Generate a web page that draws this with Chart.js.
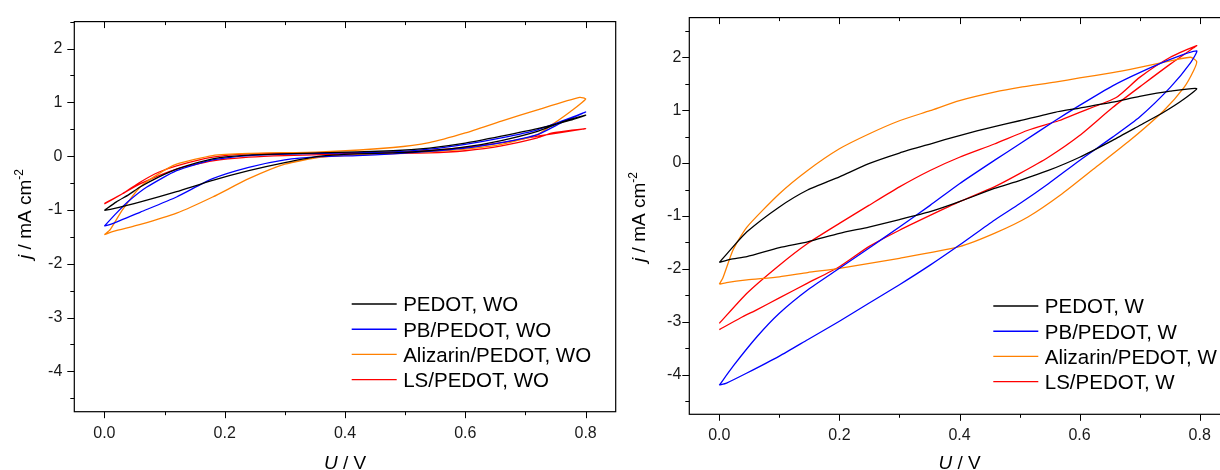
<!DOCTYPE html>
<html>
<head>
<meta charset="utf-8">
<script src="https://cdn.jsdelivr.net/npm/chart.js@4.4.1/dist/chart.umd.min.js"></script>
<style>
html, body { margin: 0; padding: 0; background: #fff; overflow: hidden; }
#wrap { position: relative; width: 1220px; height: 470px; overflow: hidden; }
#left { position: absolute; left: 0; top: 0; }
#right { position: absolute; left: 620px; top: 0; }
</style>
</head>
<body>
<div id="wrap">
  <canvas id="left" width="620" height="470"></canvas>
  <canvas id="right" width="620" height="470"></canvas>
</div>
<script>
// CV loops: forward scan 0 -> 0.8 V, then back to 0 V
// left panel (WO)
const woPedotU = [0, 0.02, 0.04, 0.06, 0.09, 0.12, 0.18, 0.24, 0.36, 0.48, 0.54, 0.6, 0.66, 0.72, 0.775, 0.8, 0.765, 0.72, 0.66, 0.6, 0.54, 0.48, 0.42, 0.36, 0.3, 0.24, 0.18, 0.12, 0.06, 0.01, 0];
const woPedotJ = [-1.01, -0.85, -0.72, -0.57, -0.39, -0.24, -0.05, 0.02, 0.06, 0.10, 0.15, 0.24, 0.37, 0.51, 0.67, 0.76, 0.65, 0.46, 0.29, 0.17, 0.10, 0.06, 0.04, 0.0, -0.12, -0.27, -0.45, -0.66, -0.85, -0.99, -1.01];

const woPbU = [0, 0.02, 0.04, 0.07, 0.12, 0.18, 0.24, 0.36, 0.48, 0.54, 0.6, 0.66, 0.72, 0.775, 0.8, 0.765, 0.72, 0.66, 0.6, 0.54, 0.48, 0.42, 0.36, 0.3, 0.24, 0.18, 0.12, 0.06, 0.01, 0];
const woPbJ = [-1.30, -1.06, -0.84, -0.58, -0.27, -0.07, 0.01, 0.05, 0.08, 0.13, 0.22, 0.34, 0.49, 0.71, 0.82, 0.65, 0.40, 0.25, 0.15, 0.09, 0.04, 0.01, -0.01, -0.07, -0.21, -0.42, -0.76, -1.04, -1.27, -1.30];

const woAlizU = [0, 0.01, 0.03, 0.06, 0.09, 0.12, 0.18, 0.24, 0.36, 0.48, 0.54, 0.6, 0.66, 0.72, 0.79, 0.8, 0.775, 0.745, 0.72, 0.66, 0.6, 0.54, 0.48, 0.42, 0.36, 0.3, 0.24, 0.18, 0.12, 0.06, 0.015, 0];
const woAlizJ = [-1.46, -1.36, -1.0, -0.57, -0.33, -0.15, 0.01, 0.05, 0.08, 0.16, 0.25, 0.43, 0.65, 0.86, 1.09, 1.06, 0.83, 0.59, 0.40, 0.22, 0.13, 0.08, 0.05, 0.02, -0.02, -0.15, -0.42, -0.76, -1.06, -1.27, -1.40, -1.46];

const woLsU = [0, 0.03, 0.06, 0.09, 0.12, 0.18, 0.24, 0.36, 0.48, 0.54, 0.6, 0.66, 0.72, 0.8, 0.745, 0.72, 0.66, 0.6, 0.54, 0.42, 0.3, 0.24, 0.18, 0.12, 0.06, 0.03, 0];
const woLsJ = [-0.88, -0.70, -0.48, -0.30, -0.18, -0.02, 0.04, 0.06, 0.07, 0.10, 0.16, 0.25, 0.37, 0.51, 0.43, 0.34, 0.19, 0.10, 0.06, 0.04, 0.01, -0.02, -0.09, -0.24, -0.51, -0.70, -0.89];

// right panel (W)
const wPedotU = [0, 0.018, 0.046, 0.1, 0.147, 0.2, 0.249, 0.3, 0.351, 0.4, 0.458, 0.5, 0.559, 0.6, 0.655, 0.7, 0.751, 0.795,
  0.774, 0.74, 0.7, 0.655, 0.6, 0.548, 0.5, 0.458, 0.4, 0.351, 0.3, 0.249, 0.2, 0.147, 0.1, 0.046, 0.018, 0];
const wPedotJ = [-1.88, -1.645, -1.30, -0.83, -0.51, -0.26, -0.01, 0.19, 0.36, 0.52, 0.69, 0.80, 0.96, 1.04, 1.15, 1.26, 1.36, 1.41,
  1.21, 0.96, 0.71, 0.43, 0.11, -0.14, -0.33, -0.48, -0.73, -0.92, -1.07, -1.21, -1.33, -1.49, -1.60, -1.77, -1.82, -1.88];

const wPbU = [0, 0.023, 0.063, 0.1, 0.147, 0.2, 0.249, 0.3, 0.351, 0.4, 0.458, 0.5, 0.559, 0.6, 0.655, 0.7, 0.751, 0.795,
  0.785, 0.751, 0.7, 0.655, 0.6, 0.548, 0.5, 0.458, 0.4, 0.351, 0.3, 0.249, 0.2, 0.147, 0.1, 0.046, 0.012, 0];
const wPbJ = [-4.20, -3.84, -3.28, -2.84, -2.40, -1.99, -1.61, -1.21, -0.80, -0.39, 0.05, 0.36, 0.80, 1.09, 1.46, 1.71, 1.96, 2.12,
  1.90, 1.43, 0.87, 0.49, 0.05, -0.39, -0.77, -1.08, -1.55, -1.93, -2.30, -2.65, -2.99, -3.34, -3.65, -3.97, -4.16, -4.20];

const wAlizU = [0, 0.006, 0.023, 0.046, 0.1, 0.147, 0.2, 0.249, 0.3, 0.351, 0.4, 0.458, 0.5, 0.559, 0.6, 0.655, 0.7, 0.751, 0.785, 0.795,
  0.79, 0.774, 0.74, 0.684, 0.627, 0.571, 0.514, 0.458, 0.4, 0.3, 0.2, 0.147, 0.1, 0.046, 0.012, 0];
const wAlizJ = [-2.29, -2.17, -1.64, -1.21, -0.58, -0.14, 0.27, 0.55, 0.80, 0.99, 1.18, 1.34, 1.43, 1.53, 1.61, 1.71, 1.81, 1.93, 2.0, 1.92,
  1.75, 1.43, 0.99, 0.43, -0.08, -0.58, -1.02, -1.33, -1.58, -1.80, -1.99, -2.07, -2.15, -2.21, -2.26, -2.29];

const wLsU = [0, 0.046, 0.1, 0.147, 0.2, 0.249, 0.3, 0.351, 0.4, 0.458, 0.514, 0.565, 0.6, 0.661, 0.7, 0.751, 0.795,
  0.79, 0.751, 0.706, 0.655, 0.6, 0.548, 0.5, 0.458, 0.4, 0.351, 0.3, 0.249, 0.2, 0.147, 0.1, 0.063, 0.035, 0];
const wLsJ = [-3.03, -2.46, -1.93, -1.52, -1.14, -0.80, -0.45, -0.14, 0.11, 0.36, 0.62, 0.80, 0.96, 1.24, 1.62, 2.0, 2.22,
  2.18, 1.87, 1.49, 1.05, 0.52, 0.11, -0.20, -0.45, -0.73, -0.99, -1.27, -1.58, -1.96, -2.27, -2.55, -2.77, -2.93, -3.15];

const woLabels = ['PEDOT, WO', 'PB/PEDOT, WO', 'Alizarin/PEDOT, WO', 'LS/PEDOT, WO'];
const wLabels = ['PEDOT, W', 'PB/PEDOT, W', 'Alizarin/PEDOT, W', 'LS/PEDOT, W'];
const colors = ['#000000', '#0000ff', '#ff8000', '#ff0000'];

const FONT = '"Liberation Sans", Arial, sans-serif';

function toPoints(us, js) {
  return us.map((u, i) => ({ x: u, y: js[i] }));
}

function makeDatasets(labels, series) {
  return series.map((s, i) => ({
    label: labels[i],
    data: toPoints(s[0], s[1]),
    borderColor: colors[i],
    borderWidth: 1.3,
    pointRadius: 0,
    showLine: true,
    fill: false,
    tension: 0.2
  }));
}

// draws text pieces (italic / superscript) centred on x
function drawRich(ctx, parts, x, y) {
  let total = 0;
  parts.forEach(p => {
    ctx.font = p.font;
    p.w = ctx.measureText(p.t).width;
    total += p.w;
  });
  let cx = x - total / 2;
  parts.forEach(p => {
    ctx.font = p.font;
    ctx.fillText(p.t, cx, y + (p.dy || 0));
    cx += p.w;
  });
}

// frame, minor ticks, top inner ticks, axis titles and legend
function decor(opt) {
  return {
    id: 'decor',
    afterDraw(chart) {
      const ctx = chart.ctx, a = chart.chartArea;
      const xs = chart.scales.x, ys = chart.scales.y;
      ctx.save();
      ctx.strokeStyle = '#000';
      ctx.lineWidth = 1.2;
      ctx.strokeRect(a.left, a.top, a.right - a.left, a.bottom - a.top);
      ctx.lineWidth = 1;
      ctx.beginPath();
      for (let i = 0; i <= 8; i++) {
        const px = Math.round(xs.getPixelForValue(i / 10)) + 0.5;
        const len = i % 2 === 0 ? 6.5 : 3.5;
        ctx.moveTo(px, a.bottom); ctx.lineTo(px, a.bottom + len);
        ctx.moveTo(px, a.top); ctx.lineTo(px, a.top + len);
      }
      for (let k = Math.ceil(ys.min * 2); k <= Math.floor(ys.max * 2); k++) {
        const py = Math.round(ys.getPixelForValue(k / 2)) + 0.5;
        const len = k % 2 === 0 ? 7 : 4;
        ctx.moveTo(a.left, py); ctx.lineTo(a.left - len, py);
      }
      ctx.stroke();

      ctx.fillStyle = '#000';
      ctx.textBaseline = 'alphabetic';
      ctx.textAlign = 'left';
      // x title
      drawRich(ctx, [
        { t: 'U', font: 'italic 19px ' + FONT },
        { t: ' / V', font: '19px ' + FONT }
      ], (a.left + a.right) / 2 + opt.xTitleShift, 469);
      // y title
      ctx.save();
      ctx.translate(opt.yTitleX, opt.yTitleY);
      ctx.rotate(-Math.PI / 2);
      drawRich(ctx, [
        { t: 'j', font: 'italic 19px ' + FONT },
        { t: ' / mA cm', font: '19px ' + FONT },
        { t: '-2', font: '12px ' + FONT, dy: -8 }
      ], 0, 0);
      ctx.restore();

      // legend
      ctx.font = '20.5px ' + FONT;
      chart.data.datasets.forEach((ds, i) => {
        const y = opt.legY + i * 25.2;
        ctx.strokeStyle = ds.borderColor;
        ctx.lineWidth = 1.4;
        ctx.beginPath();
        ctx.moveTo(opt.legX, y);
        ctx.lineTo(opt.legX + 45, y);
        ctx.stroke();
        ctx.fillText(ds.label, opt.legX + 51.5, y + 7.3);
      });
      ctx.restore();
    }
  };
}

function makeChart(id, datasets, yMax, box, opt) {
  new Chart(document.getElementById(id), {
    type: 'scatter',
    data: { datasets: datasets },
    options: {
      responsive: false,
      animation: false,
      layout: { padding: { left: 0, right: box.right, top: box.top, bottom: 0 } },
      plugins: { legend: { display: false }, tooltip: { enabled: false } },
      scales: {
        x: {
          type: 'linear',
          min: -0.05,
          max: 0.85,
          grid: { display: false, drawTicks: false },
          border: { display: false },
          ticks: {
            stepSize: 0.2,
            includeBounds: false,
            padding: 12,
            color: '#1a1a1a',
            font: { family: FONT, size: 16 },
            callback: v => v.toFixed(1)
          },
          afterFit: s => { s.height = box.xHeight; }
        },
        y: {
          type: 'linear',
          min: -4.75,
          max: yMax,
          grid: { display: false, drawTicks: false },
          border: { display: false },
          ticks: {
            stepSize: 1,
            includeBounds: false,
            padding: box.yPad,
            color: '#1a1a1a',
            font: { family: FONT, size: 16 },
            callback: v => String(Math.round(v))
          },
          afterFit: s => { s.width = box.yWidth; }
        }
      }
    },
    plugins: [decor(opt)]
  });
}

makeChart('left',
  makeDatasets(woLabels, [[woPedotU, woPedotJ], [woPbU, woPbJ], [woAlizU, woAlizJ], [woLsU, woLsJ]]),
  2.5,
  { right: 4.3, top: 15, xHeight: 58.3, yWidth: 74.3, yPad: 12 },
  { xTitleShift: 0, yTitleX: 31, yTitleY: 214, legX: 351.7, legY: 304 });

makeChart('right',
  makeDatasets(wLabels, [[wPedotU, wPedotJ], [wPbU, wPbJ], [wAlizU, wAlizJ], [wLsU, wLsJ]]),
  2.75,
  { right: 10.3, top: 16.7, xHeight: 55.7, yWidth: 69.3, yPad: 8 },
  { xTitleShift: 0, yTitleX: 25, yTitleY: 217, legX: 373.3, legY: 306 });
</script>
</body>
</html>
